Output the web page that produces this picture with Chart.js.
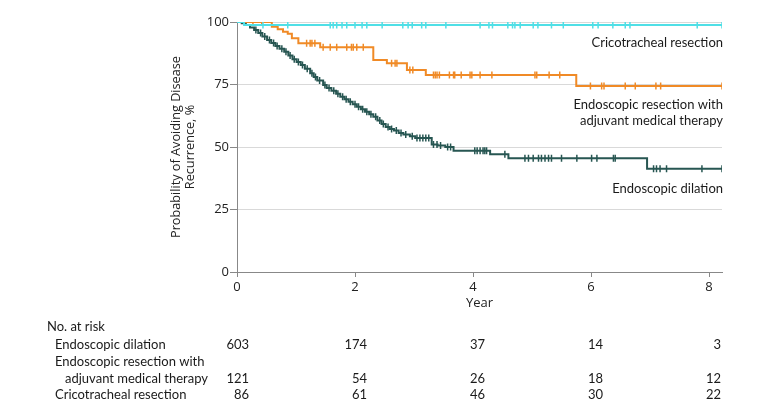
<!DOCTYPE html>
<html>
<head>
<meta charset="utf-8">
<script src="https://cdn.jsdelivr.net/npm/chart.js@4.4.0/dist/chart.umd.min.js"></script>
<style>
  html, body { margin: 0; padding: 0; background: #fff; }
</style>
</head>
<body>
<canvas id="km" width="780" height="413"></canvas>
<script>
// Kaplan-Meier curves: probability of avoiding disease recurrence by treatment
const yearTicks = [0, 2, 4, 6, 8];
const pctTicks = [0, 25, 50, 75, 100];

const dilationTime = [0, 0.08, 0.15, 0.22, 0.29, 0.36, 0.43, 0.51, 0.58, 0.65, 0.72, 0.80, 0.87, 0.94, 1.01, 1.08, 1.15, 1.24, 1.30, 1.36, 1.46, 1.52, 1.60, 1.68, 1.75, 1.82, 1.89, 1.96, 2.03, 2.10, 2.17, 2.24, 2.31, 2.38, 2.45, 2.52, 2.59, 2.66, 2.74, 2.82, 2.93, 3.02, 3.30, 3.40, 3.53, 3.67, 4.29, 4.60, 6.95, 8.22];
const dilationSurv = [100, 99.5, 98.8, 97.8, 96.8, 95.6, 94.2, 92.8, 91.6, 90.4, 89.3, 88.1, 86.6, 85.1, 84.0, 82.8, 81.3, 79.5, 78.0, 76.6, 74.8, 73.6, 72.5, 71.3, 70.1, 69.1, 68.1, 67.1, 66.1, 65.1, 64.1, 63.1, 62.1, 60.6, 59.2, 58.0, 57.2, 56.6, 55.6, 55.0, 54.3, 53.6, 51.0, 50.6, 50.0, 48.5, 47.1, 45.5, 41.3, 41.3];
const dilationCensor = [0.32, 0.40, 0.47, 0.55, 0.62, 0.68, 0.76, 0.83, 0.90, 0.97, 1.04, 1.11, 1.19, 1.27, 1.33, 1.40, 1.49, 1.56, 1.64, 1.71, 1.79, 1.85, 1.92, 2.00, 2.06, 2.13, 2.20, 2.27, 2.35, 2.42, 2.48, 2.56, 2.62, 2.70, 2.78, 2.86, 2.97, 3.05, 3.10, 3.15, 3.20, 3.25, 3.33, 3.39, 3.45, 3.57, 3.62, 4.03, 4.07, 4.12, 4.17, 4.20, 4.23, 4.54, 4.88, 4.94, 5.02, 5.11, 5.16, 5.22, 5.28, 5.33, 5.50, 5.76, 6.01, 6.10, 6.38, 6.41, 7.06, 7.11, 7.17, 7.28, 7.88, 8.22];

const resectionTime = [0, 0.59, 0.69, 0.78, 0.86, 0.93, 1.04, 1.41, 2.31, 2.54, 2.88, 3.20, 5.75, 8.22];
const resectionSurv = [100, 98.1, 97.1, 96.1, 95.3, 93.5, 91.5, 89.9, 84.8, 83.5, 80.8, 78.8, 74.4, 74.4];
const resectionCensor = [0.27, 0.42, 1.18, 1.24, 1.27, 1.32, 1.46, 1.58, 1.69, 1.86, 1.94, 1.97, 2.03, 2.14, 2.62, 2.68, 2.71, 2.93, 2.98, 3.33, 3.36, 3.39, 3.43, 3.60, 3.67, 3.69, 3.80, 3.95, 3.98, 4.12, 4.32, 5.05, 5.08, 5.29, 5.47, 5.99, 6.18, 6.22, 6.58, 6.75, 7.10, 7.18, 8.22];

const cricoTime = [0, 0.12, 8.22];
const cricoSurv = [100, 98.8, 98.8];
const cricoCensor = [0.44, 0.86, 1.58, 1.63, 1.69, 1.78, 1.86, 2.00, 2.12, 2.20, 2.46, 2.81, 2.90, 2.97, 3.13, 3.20, 3.54, 4.12, 4.27, 4.33, 4.59, 4.67, 4.71, 4.80, 5.02, 5.10, 5.33, 5.53, 6.03, 6.12, 6.37, 6.58, 6.66, 7.80, 8.22];

const riskYears = [0, 2, 4, 6, 8];
const riskDilation = [603, 174, 37, 14, 3];
const riskResection = [121, 54, 26, 18, 12];
const riskCrico = [86, 61, 46, 30, 22];

const COL_DIL = '#275652';
const COL_RES = '#f08a26';
const COL_CRI = '#4fdfe6';
const narrow = 'Lato, "Open Sans", sans-serif';
const sans = '"Open Sans", sans-serif';

// value of a step curve at time t
const stepAt = (times, surv, t) => {
  let v = surv[0];
  for (let i = 0; i < times.length; i++) if (times[i] <= t) v = surv[i];
  return v;
};
const curve = (times, surv) => times.map((t, i) => ({ x: t, y: surv[i] }));
const marks = (cens, times, surv) => cens.map(t => ({ x: t, y: stepAt(times, surv, t) }));

function lineSet(data, color, order) {
  return { type: 'line', data, borderColor: color, borderWidth: 2, stepped: 'before',
           pointRadius: 0, fill: false, order };
}
function censorSet(data, color, order) {
  return { type: 'scatter', data, borderColor: color, backgroundColor: color, pointStyle: 'line',
           rotation: 90, pointRadius: 3.5, pointBorderWidth: 1.5, showLine: false, order };
}

const notes = {
  id: 'notes',
  afterDraw(chart) {
    const { ctx, chartArea: a, scales: { x } } = chart;
    ctx.save();
    ctx.fillStyle = '#1a1a1a';
    ctx.font = '13px ' + narrow;
    ctx.textBaseline = 'middle';

    // curve labels
    ctx.textAlign = 'right';
    ctx.fillText('Cricotracheal resection', a.right + 1, 43);
    ctx.fillText('Endoscopic resection with', a.right + 1, 105);
    ctx.fillText('adjuvant medical therapy', a.right + 1, 121);
    ctx.fillText('Endoscopic dilation', a.right + 1, 189);

    // number at risk table
    ctx.textAlign = 'left';
    ctx.fillText('No. at risk', 47, 327);
    ctx.fillText('Endoscopic dilation', 55, 345);
    ctx.fillText('Endoscopic resection with', 55, 362);
    ctx.fillText('adjuvant medical therapy', 65, 379);
    ctx.fillText('Cricotracheal resection', 55, 395);

    ctx.textAlign = 'right';
    const rows = [[riskDilation, 345], [riskResection, 379], [riskCrico, 395]];
    riskYears.forEach((yr, j) => {
      const px = x.getPixelForValue(yr) + 12;
      rows.forEach(([vals, y]) => ctx.fillText(String(vals[j]), px, y));
    });
    ctx.restore();
  }
};

new Chart(document.getElementById('km'), {
  data: {
    datasets: [
      lineSet(curve(cricoTime, cricoSurv), COL_CRI, 1),
      censorSet(marks(cricoCensor, cricoTime, cricoSurv), COL_CRI, 1),
      lineSet(curve(resectionTime, resectionSurv), COL_RES, 2),
      censorSet(marks(resectionCensor, resectionTime, resectionSurv), COL_RES, 2),
      lineSet(curve(dilationTime, dilationSurv), COL_DIL, 3),
      censorSet(marks(dilationCensor, dilationTime, dilationSurv), COL_DIL, 3)
    ]
  },
  options: {
    responsive: false,
    devicePixelRatio: 1,
    animation: false,
    layout: { padding: { left: 0, right: 58, top: 22, bottom: 101 } },
    plugins: { legend: { display: false }, tooltip: { enabled: false } },
    scales: {
      x: {
        type: 'linear', min: 0, max: 8.22,
        afterBuildTicks: s => { s.ticks = yearTicks.map(v => ({ value: v })); },
        afterFit: s => { s.height = 40; },
        grid: { drawOnChartArea: false, tickLength: 5, tickColor: '#888' },
        border: { color: '#888', width: 1 },
        ticks: { padding: 2, color: '#222', font: { family: sans, size: 13 } },
        title: { display: true, text: 'Year', color: '#222', font: { family: sans, size: 13 },
                 padding: { top: 0, bottom: 1 } }
      },
      y: {
        type: 'linear', min: 0, max: 100,
        afterBuildTicks: s => { s.ticks = pctTicks.map(v => ({ value: v })); },
        afterFit: s => { s.width = 237; },
        grid: { color: c => c.tick && c.tick.value === 0 ? 'rgba(0,0,0,0)' : '#d9d9d9',
                tickLength: 7, tickColor: '#888', lineWidth: 1 },
        border: { color: '#888', width: 1 },
        ticks: { padding: 1, color: '#222', font: { family: sans, size: 13 } },
        title: { display: true, text: ['Probability of Avoiding Disease', 'Recurrence, %'],
                 color: '#222', font: { family: sans, size: 12.7, lineHeight: 1.1 },
                 padding: { top: 169.5, bottom: 0 } }
      }
    }
  },
  plugins: [notes]
});
</script>
</body>
</html>
